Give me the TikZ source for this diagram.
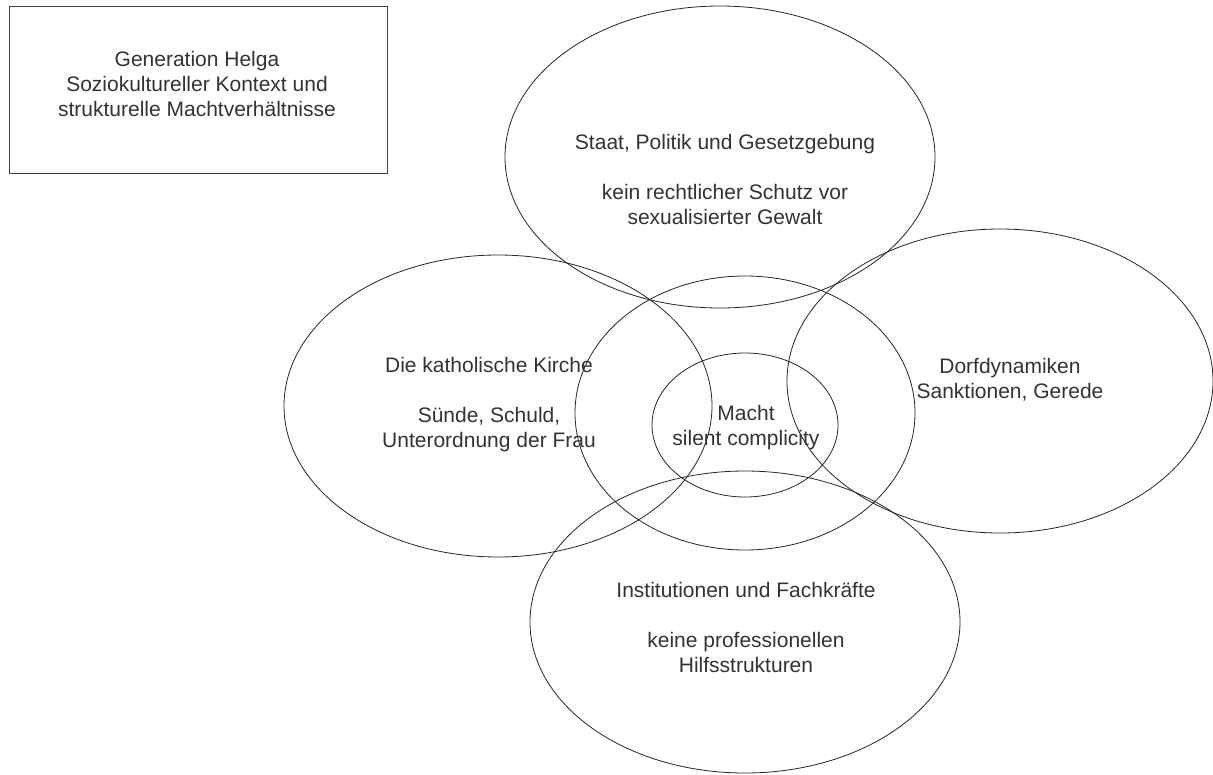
\documentclass[tikz,border=0pt]{standalone}
\usepackage{fontspec}
\setmainfont{Liberation Sans}
\tikzset{
  lbl/.style={align=center, text=black!80, font=\fontsize{21}{25}\selectfont},
  ring/.style={draw=black!85, line width=0.8pt}
}
\begin{document}
\begin{tikzpicture}[x=1pt,y=-1pt]
	\useasboundingbox (0,0) rectangle (1213,774);
	% title box
	\draw[black!75, line width=1pt] (9,6) rectangle (387,173);
	\node[lbl] (titel) at (197,84) {Generation Helga\\Soziokultureller Kontext und\\strukturelle Machtverhältnisse};
	% circles
	\draw[ring] (720,157) ellipse [x radius=215pt, y radius=151pt];
	\draw[ring] (498,406) ellipse [x radius=214pt, y radius=151pt];
	\draw[ring] (1000,381) ellipse [x radius=213pt, y radius=152pt];
	\draw[ring] (745,622) ellipse [x radius=215pt, y radius=151pt];
	\draw[ring] (745,413) ellipse [x radius=170pt, y radius=137pt];
	\draw[ring] (745,425) ellipse [x radius=93pt, y radius=72pt];
	% labels
	\node[lbl] (staat) at (725,179) {Staat, Politik und Gesetzgebung\\[25pt]kein rechtlicher Schutz vor\\sexualisierter Gewalt};
	\node[lbl] (kirche) at (489,405) {Die katholische Kirche\\[25pt]Sünde, Schuld,\\Unterordnung der Frau};
	\node[lbl] (dorf) at (1010,380) {Dorfdynamiken\\Sanktionen, Gerede};
	\node[lbl] (macht) at (746,428) {Macht\\silent complicity};
	\node[lbl] (inst) at (746,627) {Institutionen und Fachkräfte\\[25pt]keine professionellen\\Hilfsstrukturen};
\end{tikzpicture}
\end{document}
